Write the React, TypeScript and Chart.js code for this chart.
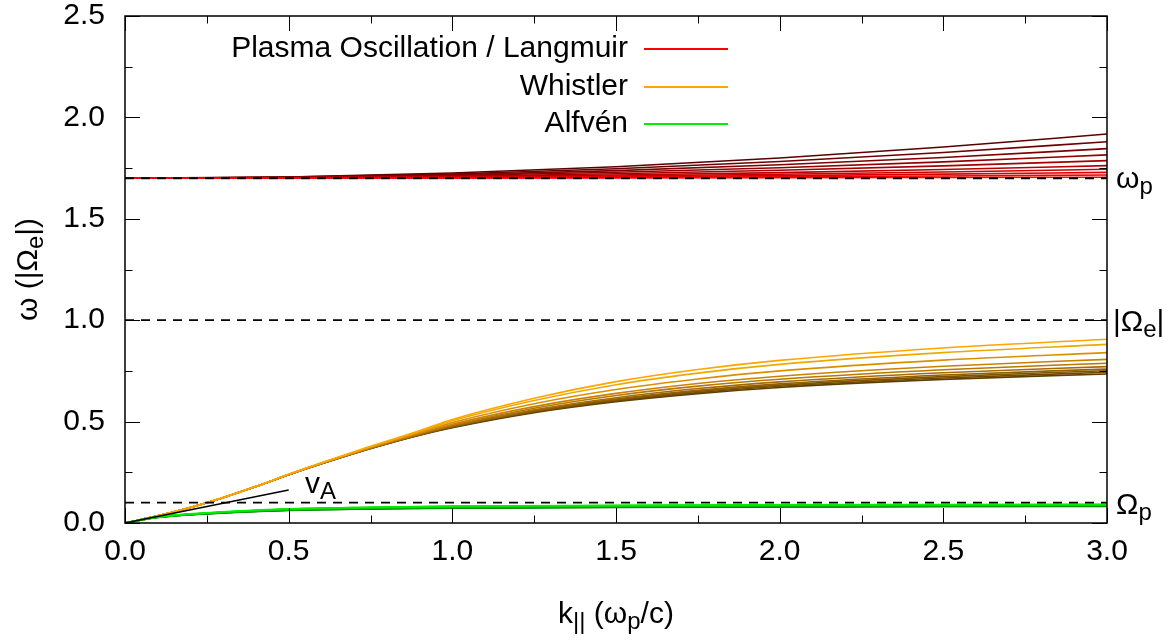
import React, { useEffect, useRef } from 'react';
import { Chart, registerables } from 'chart.js';
Chart.register(...registerables);

const FAM = '"Liberation Sans", Arial, Helvetica, sans-serif';

// ---------------- data ----------------
const xTickValues = [0, 0.5, 1.0, 1.5, 2.0, 2.5, 3.0];
const yTickValues = [0, 0.5, 1.0, 1.5, 2.0, 2.5];

const omegaP = 1.7;
const omegaE = 1.0;
const omegaPi = 0.1;

// Langmuir (plasma oscillation) family, dark (hot) -> bright red (cold)
const kRed = [0, 0.5, 1.0, 1.5, 2.0, 2.5, 3.0];
const red0 = [1.7, 1.7064, 1.7256, 1.757, 1.8001, 1.8541, 1.918];
const red1 = [1.7, 1.7053, 1.7209, 1.7467, 1.7822, 1.8269, 1.88];
const red2 = [1.7, 1.7042, 1.7168, 1.7377, 1.7664, 1.8026, 1.846];
const red3 = [1.7, 1.7033, 1.7132, 1.7295, 1.752, 1.7807, 1.815];
const red4 = [1.7, 1.7025, 1.7099, 1.7222, 1.7392, 1.7609, 1.787];
const red5 = [1.7, 1.7018, 1.707, 1.7157, 1.7278, 1.7433, 1.762];
const red6 = [1.7, 1.7012, 1.7049, 1.7111, 1.7197, 1.7307, 1.744];
const red7 = [1.7, 1.7008, 1.7033, 1.7073, 1.713, 1.7202, 1.729];
const red8 = [1.7, 1.7004, 1.7018, 1.704, 1.7071, 1.7111, 1.716];
const red9 = [1.7, 1.7001, 1.7006, 1.7013, 1.7022, 1.7035, 1.705];
const redFamily = [red0, red1, red2, red3, red4, red5, red6, red7, red8, red9];
const redColors = ['#5a0000', '#6c0000', '#7f0000', '#910000', '#a30000', '#b60000', '#c80000', '#da0000', '#ed0000', '#ff0000'];

// Whistler family, bright orange (cold) -> dark brown (hot)
const kWhistler = [0, 0.1, 0.25, 0.4, 0.5, 0.6, 0.75, 0.9, 1.0, 1.25, 1.5, 1.75, 2.0, 2.5, 3.0];
const wh0 = [0, 0.035, 0.1, 0.18, 0.24, 0.297, 0.378, 0.455, 0.51, 0.615, 0.697, 0.757, 0.802, 0.863, 0.906];
const wh1 = [0, 0.035, 0.1, 0.18, 0.24, 0.296, 0.376, 0.452, 0.504, 0.604, 0.682, 0.739, 0.782, 0.84, 0.881];
const wh2 = [0, 0.035, 0.1, 0.18, 0.239, 0.295, 0.374, 0.447, 0.495, 0.588, 0.658, 0.71, 0.75, 0.803, 0.84];
const wh3 = [0, 0.035, 0.1, 0.18, 0.239, 0.294, 0.372, 0.442, 0.487, 0.574, 0.639, 0.688, 0.724, 0.773, 0.807];
const wh4 = [0, 0.035, 0.1, 0.18, 0.239, 0.294, 0.37, 0.44, 0.482, 0.566, 0.629, 0.675, 0.709, 0.756, 0.788];
const wh5 = [0, 0.035, 0.1, 0.18, 0.238, 0.293, 0.369, 0.438, 0.478, 0.558, 0.618, 0.663, 0.696, 0.741, 0.771];
const wh6 = [0, 0.035, 0.1, 0.18, 0.238, 0.293, 0.369, 0.436, 0.476, 0.554, 0.611, 0.654, 0.686, 0.73, 0.759];
const wh7 = [0, 0.035, 0.1, 0.18, 0.238, 0.292, 0.368, 0.435, 0.474, 0.55, 0.607, 0.649, 0.68, 0.722, 0.751];
const wh8 = [0, 0.035, 0.1, 0.18, 0.238, 0.292, 0.367, 0.434, 0.472, 0.547, 0.602, 0.643, 0.674, 0.715, 0.743];
const wh9 = [0, 0.035, 0.1, 0.18, 0.238, 0.292, 0.367, 0.433, 0.47, 0.544, 0.598, 0.638, 0.668, 0.708, 0.735];
const whistlerFamily = [wh0, wh1, wh2, wh3, wh4, wh5, wh6, wh7, wh8, wh9];
const whistlerColors = ['#ffa500', '#eda900', '#db8e00', '#c98200', '#b77700', '#a56b00', '#936000', '#825400', '#704900', '#5e3d00'];

// Alfvén family, bright green -> dark green
const kAlfven = [0, 0.1, 0.25, 0.5, 0.75, 1.0, 1.5, 2.0, 2.5, 3.0];
const al0 = [0, 0.03, 0.05, 0.07, 0.078, 0.083, 0.087, 0.09, 0.091, 0.092];
const al1 = [0, 0.03, 0.049, 0.069, 0.077, 0.082, 0.086, 0.089, 0.09, 0.091];
const al2 = [0, 0.029, 0.049, 0.068, 0.076, 0.081, 0.085, 0.088, 0.089, 0.09];
const al3 = [0, 0.029, 0.048, 0.067, 0.075, 0.08, 0.084, 0.087, 0.088, 0.089];
const al4 = [0, 0.029, 0.048, 0.066, 0.074, 0.079, 0.083, 0.086, 0.087, 0.088];
const al5 = [0, 0.028, 0.047, 0.065, 0.073, 0.077, 0.082, 0.084, 0.086, 0.087];
const al6 = [0, 0.028, 0.047, 0.064, 0.072, 0.076, 0.08, 0.083, 0.085, 0.086];
const al7 = [0, 0.028, 0.046, 0.063, 0.071, 0.075, 0.079, 0.081, 0.084, 0.085];
const al8 = [0, 0.027, 0.046, 0.063, 0.07, 0.074, 0.078, 0.08, 0.082, 0.083];
const al9 = [0, 0.027, 0.045, 0.062, 0.069, 0.073, 0.077, 0.079, 0.081, 0.082];
const alfvenFamily = [al0, al1, al2, al3, al4, al5, al6, al7, al8, al9];
const alfvenColors = ['#00ee00', '#00e000', '#00d200', '#00c400', '#00b600', '#00a800', '#009a00', '#008c00', '#007e00', '#007000'];

// Alfvén speed tangent line
const kVA = [0, 0.5];
const wVA = [0, 0.163];

const legendLabels = ['Plasma Oscillation / Langmuir', 'Whistler', 'Alfvén'];
const legendColors = ['#ff0000', '#ffa500', '#00ee00'];

// ---------------- helpers ----------------
const pts = (xs: number[], ys: number[]) => xs.map((x, i) => ({ x, y: ys[i] }));

type Part = [string, boolean];
function drawRich(ctx: CanvasRenderingContext2D, parts: Part[], x: number, y: number, align: 'left' | 'center' | 'right', size: number) {
  const main = `${size}px ${FAM}`;
  const sub = `${Math.round(size * 0.8)}px ${FAM}`;
  let w = 0;
  for (const [t, s] of parts) {
    ctx.font = s ? sub : main;
    w += ctx.measureText(t).width;
  }
  let cx = align === 'left' ? x : align === 'center' ? x - w / 2 : x - w;
  ctx.textAlign = 'left';
  ctx.textBaseline = 'alphabetic';
  for (const [t, s] of parts) {
    ctx.font = s ? sub : main;
    ctx.fillText(t, cx, s ? y + size * 0.2 : y);
    cx += ctx.measureText(t).width;
  }
}

const decorPlugin = {
  id: 'decor',
  afterDraw(chart: any) {
    const ctx: CanvasRenderingContext2D = chart.ctx;
    const { left, right, top, bottom } = chart.chartArea;
    const xs = chart.scales.x;
    const ys = chart.scales.y;
    ctx.save();
    ctx.strokeStyle = '#000';
    ctx.fillStyle = '#000';
    // ticks (inward, mirrored)
    ctx.lineWidth = 1;
    for (let i = 0; i <= 12; i++) {
      const v = i * 0.25;
      const px = Math.round(xs.getPixelForValue(v)) + 0.5;
      const len = i % 2 === 0 ? 15 : 7.5;
      ctx.beginPath();
      ctx.moveTo(px, bottom);
      ctx.lineTo(px, bottom - len);
      ctx.moveTo(px, top);
      ctx.lineTo(px, top + len);
      ctx.stroke();
    }
    for (let i = 0; i <= 10; i++) {
      const v = i * 0.25;
      const py = Math.round(ys.getPixelForValue(v)) + 0.5;
      const len = i % 2 === 0 ? 15 : 7.5;
      ctx.beginPath();
      ctx.moveTo(left, py);
      ctx.lineTo(left + len, py);
      ctx.moveTo(right, py);
      ctx.lineTo(right - len, py);
      ctx.stroke();
    }
    // frame
    ctx.lineWidth = 1.5;
    ctx.strokeRect(left, top, right - left, bottom - top);

    // legend
    const legY = [top + 33, top + 71, top + 108];
    ctx.font = `30px ${FAM}`;
    ctx.textAlign = 'right';
    ctx.textBaseline = 'middle';
    for (let i = 0; i < legendLabels.length; i++) {
      ctx.fillStyle = '#000';
      ctx.fillText(legendLabels[i], 628, legY[i]);
      ctx.strokeStyle = legendColors[i];
      ctx.lineWidth = 2;
      ctx.beginPath();
      ctx.moveTo(644, legY[i]);
      ctx.lineTo(728, legY[i]);
      ctx.stroke();
    }
    ctx.fillStyle = '#000';

    // right-hand level labels
    const lx = right + 6;
    drawRich(ctx, [['ω', false], ['p', true]], lx + 3, ys.getPixelForValue(omegaP) + 10, 'left', 30);
    drawRich(ctx, [['|Ω', false], ['e', true], ['|', false]], lx, ys.getPixelForValue(omegaE) + 11, 'left', 30);
    drawRich(ctx, [['Ω', false], ['p', true]], lx + 3, ys.getPixelForValue(omegaPi) + 11, 'left', 30);

    // v_A label
    drawRich(ctx, [['v', false], ['A', true]], xs.getPixelForValue(0.55), ys.getPixelForValue(0.148), 'left', 30);

    // axis titles
    drawRich(ctx, [['k', false], ['||', true], [' (ω', false], ['p', true], ['/c)', false]], (left + right) / 2, 623, 'center', 30);
    ctx.save();
    ctx.translate(37, (top + bottom) / 2);
    ctx.rotate(-Math.PI / 2);
    drawRich(ctx, [['ω (|Ω', false], ['e', true], ['|)', false]], 0, 0, 'center', 30);
    ctx.restore();
    ctx.restore();
  },
};

export default function App() {
  const ref = useRef<HTMLCanvasElement>(null);
  useEffect(() => {
    document.body.style.margin = '0';
    const canvas = ref.current!;
    const lineDs = (data: any[], color: string, order: number, width = 1.6, dash: number[] = []) => ({
      data,
      borderColor: color,
      backgroundColor: color,
      borderWidth: width,
      borderDash: dash,
      pointRadius: 0,
      pointHoverRadius: 0,
      fill: false,
      cubicInterpolationMode: 'monotone' as const,
      order,
    });
    const datasets: any[] = [];
    // reference levels (on top)
    datasets.push(lineDs(pts([0, 3], [omegaP, omegaP]), '#000', 0, 1.8, [9, 7]));
    datasets.push(lineDs(pts([0, 3], [omegaE, omegaE]), '#000', 0, 1.8, [9, 7]));
    datasets.push(lineDs(pts([0, 3], [omegaPi, omegaPi]), '#000', 0, 1.8, [9, 7]));
    datasets.push(lineDs(pts(kVA, wVA), '#000', 1, 1.6));
    alfvenFamily.forEach((ys, i) => datasets.push(lineDs(pts(kAlfven, ys), alfvenColors[i], 2 + i)));
    whistlerFamily.forEach((ys, i) => datasets.push(lineDs(pts(kWhistler, ys), whistlerColors[i], 20 + i)));
    redFamily.forEach((ys, i) => datasets.push(lineDs(pts(kRed, ys), redColors[i], 40 + (9 - i))));

    const chart = new Chart(canvas, {
      type: 'line',
      data: { datasets },
      options: {
        responsive: false,
        animation: false,
        devicePixelRatio: 1,
        events: [],
        layout: { padding: { left: 0, top: 16, right: 67, bottom: 0 } },
        plugins: { legend: { display: false }, tooltip: { enabled: false }, title: { display: false } },
        scales: {
          x: {
            type: 'linear',
            min: 0,
            max: 3,
            grid: { display: false, drawTicks: true, tickLength: 14, tickColor: 'rgba(0,0,0,0)' },
            border: { display: false },
            afterFit: (s: any) => { s.height = 119; },
            afterBuildTicks: (s: any) => { s.ticks = xTickValues.map((v) => ({ value: v })); },
            ticks: {
              color: '#000',
              font: { size: 30, family: FAM, lineHeight: 1 },
              padding: 0,
              maxRotation: 0,
              autoSkip: false,
              callback: (v: any) => Number(v).toFixed(1),
            },
          },
          y: {
            type: 'linear',
            min: 0,
            max: 2.5,
            grid: { display: false, drawTicks: true, tickLength: 20, tickColor: 'rgba(0,0,0,0)' },
            border: { display: false },
            afterFit: (s: any) => { s.width = 125; },
            afterBuildTicks: (s: any) => { s.ticks = yTickValues.map((v) => ({ value: v })); },
            ticks: {
              color: '#000',
              font: { size: 30, family: FAM, lineHeight: 1 },
              padding: 0,
              autoSkip: false,
              callback: (v: any) => Number(v).toFixed(1),
            },
          },
        },
      },
      plugins: [decorPlugin],
    });
    return () => chart.destroy();
  }, []);
  return <canvas ref={ref} width={1174} height={642} style={{ display: 'block', width: 1174, height: 642 }} />;
}
